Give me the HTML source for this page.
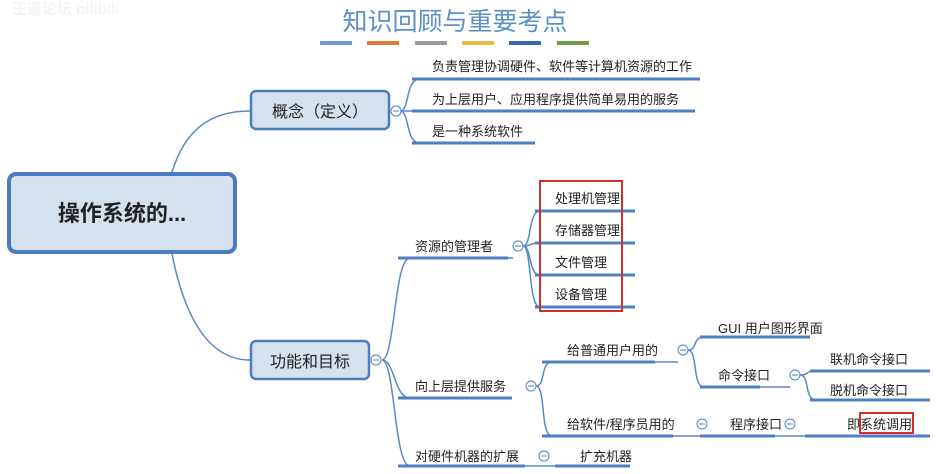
<!DOCTYPE html>
<html><head><meta charset="utf-8"><style>
html,body{margin:0;padding:0;background:#fff;}
svg{display:block;font-family:"Liberation Sans","Noto Sans CJK SC",sans-serif;}
</style></head><body>
<svg width="936" height="474" viewBox="0 0 936 474" xmlns="http://www.w3.org/2000/svg">
<text x="12" y="14" font-size="15" fill="#f3f3f3" font-weight="bold">王道论坛 bilibili</text>
<text x="455" y="30" font-size="25" fill="#5b8fc7" text-anchor="middle">知识回顾与重要考点</text>
<g>
<rect x="320" y="41" width="32" height="4" fill="#6a9fd4"/>
<rect x="367" y="41" width="32" height="4" fill="#e07a3e"/>
<rect x="415" y="41" width="32" height="4" fill="#9a9a9a"/>
<rect x="462" y="41" width="32" height="4" fill="#f0b840"/>
<rect x="509" y="41" width="32" height="4" fill="#3a66b0"/>
<rect x="557" y="41" width="32" height="4" fill="#6f9e40"/>
</g>
<g fill="none" stroke="#5a88c6" stroke-width="1.5">
<path d="M172 172 C185 130,210 111,250 111"/>
<path d="M172 254 C185 320,210 360,250 360"/>
<path d="M400 111 C410 111,405 79,420 79"/>
<path d="M400 111 L420 111"/>
<path d="M400 111 C410 111,405 143,420 143"/>
<path d="M382 360 C395 360,394 258,410 258"/>
<path d="M382 360 C395 360,394 398,410 398"/>
<path d="M382 360 C395 360,394 466,410 466"/>
<path d="M523 246 C532 246,528 211,540 211"/>
<path d="M523 246 C532 246,528 243,540 243"/>
<path d="M523 246 C532 246,528 275,540 275"/>
<path d="M523 246 C532 246,528 307,540 307"/>
<path d="M536 386 C546 386,540 362,552 362"/>
<path d="M536 386 C546 386,540 436,552 436"/>
<path d="M688 350 C698 350,692 337,704 337"/>
<path d="M688 350 C698 350,692 387,704 387"/>
<path d="M800 375 C810 375,804 371,816 371"/>
<path d="M800 375 C810 375,804 400,816 400"/>
<path d="M655 362 L678 362"/><path d="M760 387 L790 387"/>
<path d="M673 436 L700 436"/><path d="M775 436 L805 436"/>
<path d="M525 466 L555 466"/><path d="M508 258 L513 258"/>
</g>
<g stroke="#4f7fc0" stroke-width="3">
<line x1="412" y1="79" x2="700" y2="79"/>
<line x1="412" y1="111" x2="695" y2="111"/>
<line x1="412" y1="143" x2="535" y2="143"/>
<line x1="398" y1="258" x2="508" y2="258"/>
<line x1="398" y1="398" x2="512" y2="398"/>
<line x1="398" y1="466" x2="525" y2="466"/>
<line x1="535" y1="211" x2="635" y2="211"/>
<line x1="535" y1="243" x2="635" y2="243"/>
<line x1="535" y1="275" x2="635" y2="275"/>
<line x1="535" y1="307" x2="635" y2="307"/>
<line x1="542" y1="362" x2="655" y2="362"/>
<line x1="542" y1="436" x2="673" y2="436"/>
<line x1="700" y1="337" x2="810" y2="337"/>
<line x1="700" y1="387" x2="760" y2="387"/>
<line x1="810" y1="371" x2="930" y2="371"/>
<line x1="810" y1="400" x2="930" y2="400"/>
<line x1="700" y1="436" x2="775" y2="436"/>
<line x1="805" y1="436" x2="930" y2="436"/>
<line x1="555" y1="466" x2="630" y2="466"/>
</g>
<rect x="9" y="174" width="226" height="78" rx="7" fill="#d6e1ee" stroke="#4a7cc0" stroke-width="4"/>
<text x="122" y="221" font-size="22" font-weight="bold" text-anchor="middle" fill="#222">操作系统的...</text>
<rect x="251" y="91" width="138" height="38" rx="5" fill="#d6e1ee" stroke="#4a7cc0" stroke-width="2.5"/>
<text x="320" y="117" font-size="16" text-anchor="middle" fill="#222">概念（定义）</text>
<rect x="251" y="341" width="118" height="38" rx="5" fill="#d6e1ee" stroke="#4a7cc0" stroke-width="2.5"/>
<text x="310" y="367" font-size="16" text-anchor="middle" fill="#222">功能和目标</text>
<g fill="#fff" stroke="#6a94cc" stroke-width="1.2">
<circle cx="396" cy="111" r="5"/><circle cx="376" cy="360" r="5"/>
<circle cx="518" cy="246" r="5"/><circle cx="531" cy="386" r="5"/>
<circle cx="683" cy="350" r="5"/><circle cx="795" cy="375" r="5"/>
<circle cx="702" cy="424" r="5"/><circle cx="790" cy="424" r="5"/>
<circle cx="544" cy="456" r="5"/>
</g>
<g stroke="#6a94cc" stroke-width="1.2">
<line x1="393" y1="111" x2="399" y2="111"/><line x1="373" y1="360" x2="379" y2="360"/>
<line x1="515" y1="246" x2="521" y2="246"/><line x1="528" y1="386" x2="534" y2="386"/>
<line x1="680" y1="350" x2="686" y2="350"/><line x1="792" y1="375" x2="798" y2="375"/>
<line x1="699" y1="424" x2="705" y2="424"/><line x1="787" y1="424" x2="793" y2="424"/>
<line x1="541" y1="456" x2="547" y2="456"/>
</g>
<g font-size="13" fill="#222">
<text x="432" y="71">负责管理协调硬件、软件等计算机资源的工作</text>
<text x="432" y="104">为上层用户、应用程序提供简单易用的服务</text>
<text x="432" y="136">是一种系统软件</text>
<text x="415" y="251">资源的管理者</text>
<text x="415" y="391">向上层提供服务</text>
<text x="415" y="461">对硬件机器的扩展</text>
<text x="555" y="203">处理机管理</text>
<text x="555" y="235">存储器管理</text>
<text x="555" y="267">文件管理</text>
<text x="555" y="299">设备管理</text>
<text x="567" y="355">给普通用户用的</text>
<text x="567" y="429">给软件/程序员用的</text>
<text x="718" y="333">GUI 用户图形界面</text>
<text x="718" y="380">命令接口</text>
<text x="830" y="364">联机命令接口</text>
<text x="830" y="395">脱机命令接口</text>
<text x="730" y="429">程序接口</text>
<text x="847" y="429">即系统调用</text>
<text x="580" y="461">扩充机器</text>
</g>
<rect x="540" y="181" width="82" height="130" fill="none" stroke="#d03030" stroke-width="2"/>
<rect x="860" y="413" width="53" height="20" fill="none" stroke="#d03030" stroke-width="2"/>
</svg>
</body></html>
